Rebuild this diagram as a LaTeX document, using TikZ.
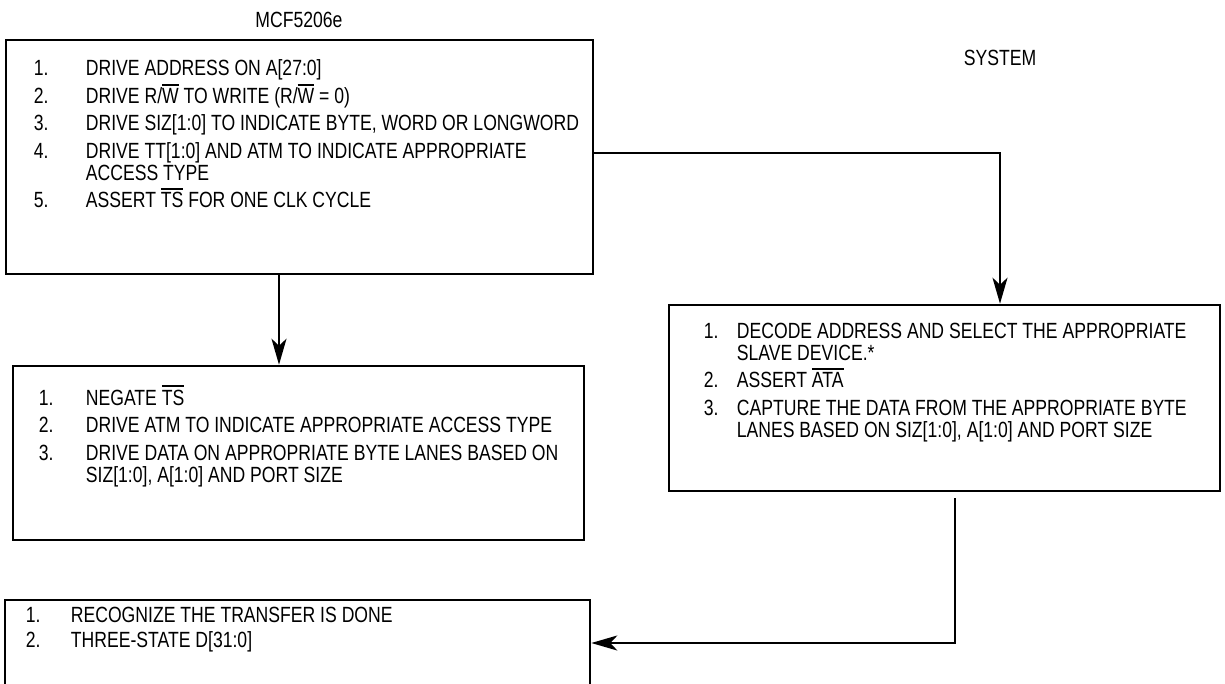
\documentclass[tikz,border=0pt]{standalone}
\usepackage{fontspec}
\setmainfont[FakeStretch=0.80]{Liberation Sans}
\usetikzlibrary{arrows.meta,calc,positioning}

% active-low signal name with a bar over it
\newcommand{\lowsig}[1]{\smash{\vbox{\hrule height 2.2pt\kern 2.5pt\hbox{#1}}}}
% step number in a column of fixed width
\newcommand{\nr}[2]{\makebox[#1][l]{#2}}

\begin{document}
\begin{tikzpicture}[x=1pt,y=-1pt,
    box/.style={draw,line width=2.6pt,inner sep=0pt},
    steps/.style={anchor=north west,inner sep=0pt,align=left,font=\fontsize{22}{22}\selectfont},
    side/.style={inner sep=0pt,font=\fontsize{22}{22}\selectfont},
    flow/.style={line width=2.2pt,-{Stealth[length=26pt,width=15pt,inset=7pt]}}]
    \useasboundingbox (0,0) rectangle (1225,683);

    \node[side]                                             (mcfT) at (299,20)   {MCF5206e};
    \node[side]                                             (sysT) at (1000,58)  {SYSTEM};

    \node[box,minimum width=587pt,minimum height=234pt]    (mcfA) at (299.5,157) {};
    \node[box,minimum width=571pt,minimum height=174pt]    (mcfC) at (298.5,453) {};
    \node[box,minimum width=551pt,minimum height=186pt]    (sysD) at (944.5,398) {};
    \node[box,minimum width=585pt,minimum height=90pt]     (mcfE) at (297.5,645) {};

    \node[steps] (listA) at ([xshift=29pt,yshift=-21pt]mcfA.north west) {%
      \nr{52pt}{1.}DRIVE ADDRESS ON A[27:0]\\[5.5pt]
      \nr{52pt}{2.}DRIVE R/\lowsig{W} TO WRITE (R/\lowsig{W} = 0)\\[5.5pt]
      \nr{52pt}{3.}DRIVE SIZ[1:0] TO INDICATE BYTE, WORD OR LONGWORD\\[5.5pt]
      \nr{52pt}{4.}DRIVE TT[1:0] AND ATM TO INDICATE APPROPRIATE\\
      \nr{52pt}{}ACCESS TYPE\\[5.5pt]
      \nr{52pt}{5.}ASSERT \lowsig{TS} FOR ONE CLK CYCLE};
    \node[steps] (listC) at ([xshift=27pt,yshift=-25pt]mcfC.north west) {%
      \nr{47pt}{1.}NEGATE \lowsig{TS}\\[5.5pt]
      \nr{47pt}{2.}DRIVE ATM TO INDICATE APPROPRIATE ACCESS TYPE\\[5.5pt]
      \nr{47pt}{3.}DRIVE DATA ON APPROPRIATE BYTE LANES BASED ON\\
      \nr{47pt}{}SIZ[1:0], A[1:0] AND PORT SIZE};
    \node[steps] (listD) at ([xshift=36pt,yshift=-19pt]sysD.north west) {%
      \nr{33pt}{1.}DECODE ADDRESS AND SELECT THE APPROPRIATE\\
      \nr{33pt}{}SLAVE DEVICE.*\\[5.5pt]
      \nr{33pt}{2.}ASSERT \lowsig{ATA}\\[5.5pt]
      \nr{33pt}{3.}CAPTURE THE DATA FROM THE APPROPRIATE BYTE\\
      \nr{33pt}{}LANES BASED ON SIZ[1:0], A[1:0] AND PORT SIZE};
    \node[steps] (listE) at ([xshift=22pt,yshift=-8pt]mcfE.north west) {%
      \nr{45pt}{1.}RECOGNIZE THE TRANSFER IS DONE\\[3pt]
      \nr{45pt}{2.}THREE-STATE D[31:0]};

    \coordinate (turnD) at (1000,153);
    \coordinate (dropC) at (279,274);
    \coordinate (turnE) at (955,643);

    \draw[flow] (mcfA.east |- turnD) -- (turnD) -- (turnD |- sysD.north);
    \draw[flow] (dropC |- mcfA.south) -- (dropC |- mcfC.north);
    \draw[flow] ([yshift=-6pt]turnE |- sysD.south) -- (turnE) -- (turnE -| mcfE.east);
\end{tikzpicture}
\end{document}
